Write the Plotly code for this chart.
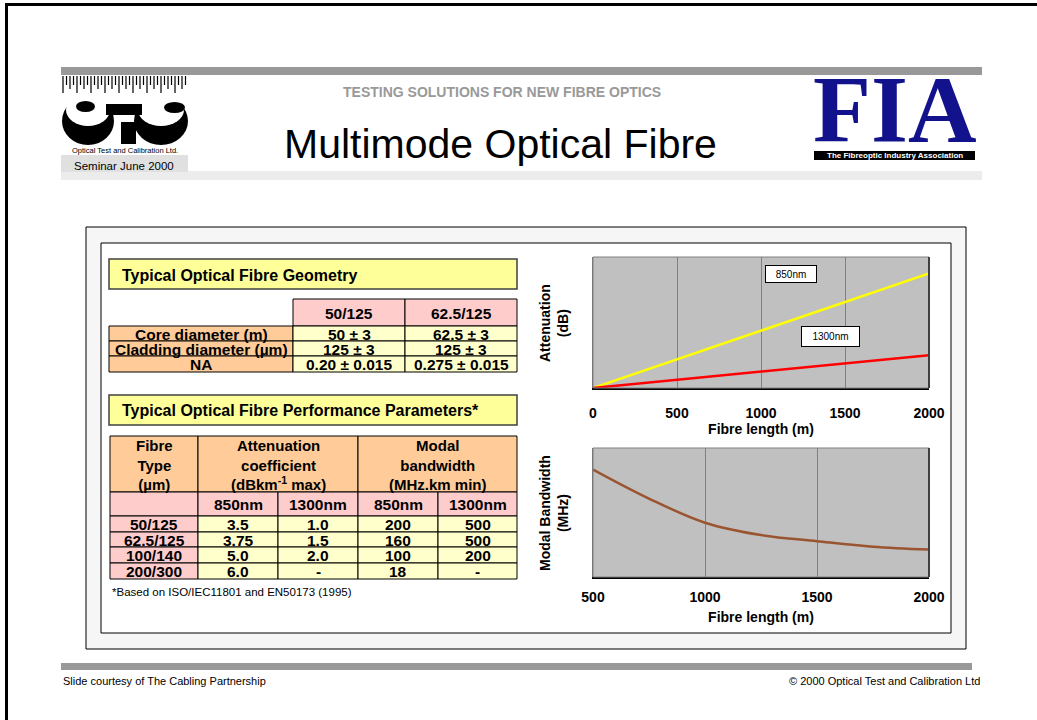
import plotly.graph_objects as go

W, H = 1037, 720
ARIAL = "Arial, Liberation Sans, sans-serif"
SERIF = "Times New Roman, Liberation Serif, serif"

# ---------------- data ----------------
geo_cols = ["50/125", "62.5/125"]
geo_rows = ["Core diameter (m)", "Cladding diameter (µm)", "NA"]
geo_50 = ["50 ± 3", "125 ± 3", "0.20 ± 0.015"]
geo_625 = ["62.5 ± 3", "125 ± 3", "0.275 ± 0.015"]

perf_headers = ["Fibre<br>Type<br>(µm)",
                "Attenuation<br>coefficient<br>(dBkm<sup>-1</sup> max)",
                "Modal<br>bandwidth<br>(MHz.km min)"]
wavelengths = ["850nm", "1300nm", "850nm", "1300nm"]
fibre_types = ["50/125", "62.5/125", "100/140", "200/300"]
att_850 = ["3.5", "3.75", "5.0", "6.0"]
att_1300 = ["1.0", "1.5", "2.0", "-"]
bw_850 = ["200", "160", "100", "18"]
bw_1300 = ["500", "500", "200", "-"]

length_m = [0, 500, 1000, 1500, 2000]
loss_850 = [0, 1.75, 3.5, 5.25, 7.0]
loss_1300 = [0, 0.5, 1.0, 1.5, 2.0]
bw_length_m = [500, 750, 1000, 1250, 1500, 1750, 2000]
bw_mhz = [1000, 730, 505, 390, 333, 282, 255]
att_ticks = [0, 500, 1000, 1500, 2000]
bw_ticks = [500, 1000, 1500, 2000]


# ---------------- helpers ----------------
def px(x):
    return x / W


def py(y):
    return 1 - y / H


shapes = []
annotations = []


def rect(x0, y0, x1, y1, fill="rgba(0,0,0,0)", line="black", lw=1, layer="below"):
    shapes.append(dict(type="rect", xref="paper", yref="paper",
                       x0=px(x0), x1=px(x1), y0=py(y1), y1=py(y0),
                       fillcolor=fill, line=dict(color=line, width=lw), layer=layer))


def ellipse(x0, y0, x1, y1, fill):
    shapes.append(dict(type="circle", xref="paper", yref="paper",
                       x0=px(x0), x1=px(x1), y0=py(y1), y1=py(y0),
                       fillcolor=fill, line=dict(width=0), layer="below"))


def hline(x0, x1, y, color="black", lw=1, layer="below"):
    shapes.append(dict(type="line", xref="paper", yref="paper",
                       x0=px(x0), x1=px(x1), y0=py(y), y1=py(y),
                       line=dict(color=color, width=lw), layer=layer))


def vline(x, y0, y1, color="black", lw=1, layer="below"):
    shapes.append(dict(type="line", xref="paper", yref="paper",
                       x0=px(x), x1=px(x), y0=py(y0), y1=py(y1),
                       line=dict(color=color, width=lw), layer=layer))


def txt(x, y, s, size, bold=False, color="black", xanchor="center",
        family=ARIAL, angle=0, **kw):
    if bold:
        s = "<b>" + s.replace("<br>", "</b><br><b>") + "</b>"
    annotations.append(dict(x=px(x), y=py(y), xref="paper", yref="paper",
                            text=s, showarrow=False, xanchor=xanchor,
                            yanchor="middle", textangle=angle,
                            font=dict(family=family, size=size, color=color), **kw))


# ---------------- slide frame ----------------
vline(6.5, 3, 720, lw=3)
hline(5, 1037, 4.5, lw=3)

# header bars
rect(61, 67, 982, 75, fill="#999999", line="#999999", lw=0)
rect(61, 171, 982, 180, fill="#ececec", line="#ececec", lw=0)
rect(61, 155, 188, 172, fill="#e0e0e0", line="#e0e0e0", lw=0)
txt(124, 166, "Seminar June 2000", 11.5)

# OTC logo (ruler ticks + stylised letters)
tick_path = ""
for i in range(36):
    xx = 63 + i * 3.5
    ln = 17 if i % 4 == 0 else (13 if i % 2 == 0 else 9)
    tick_path += "M%.5f,%.5f L%.5f,%.5f " % (px(xx), py(76), px(xx), py(76 + ln))
shapes.append(dict(type="path", xref="paper", yref="paper", path=tick_path,
                   line=dict(color="black", width=1.2), layer="below"))
ellipse(62, 97, 114, 145, "black")
ellipse(66, 94, 110, 126, "white")
ellipse(76, 101, 95, 112, "black")
ellipse(134, 97, 188, 145, "black")
ellipse(138, 94, 184, 126, "white")
ellipse(164, 102, 185, 113, "black")
rect(106, 104, 142, 115, fill="black", line="black", lw=0)
rect(121, 122, 136, 144, fill="black", line="black", lw=0)
txt(125, 150, "Optical Test and Calibration Ltd.", 7.5)

# FIA logo
txt(895, 110, "<b>FIA</b>", 95, color="#12128c", family=SERIF)
rect(814, 151, 975, 160, fill="black", line="black", lw=0)
txt(895, 155.5, "The Fibreoptic Industry Association", 8, bold=True, color="white")

# titles
txt(502, 92, "TESTING SOLUTIONS FOR NEW FIBRE OPTICS", 14, bold=True, color="#999999")
txt(500, 144, "Multimode Optical Fibre", 41)

# content panel
rect(86, 227, 966, 649, fill="#f6f6f6", line="black", lw=1)
rect(101, 243, 951, 633, fill="white", line="black", lw=1)

# ---------------- table 1 : geometry ----------------
ORANGE, PINK, YELLOW, TITLEY = "#ffcc99", "#ffcccc", "#ffffcc", "#ffff99"
CELL = 15.5
rect(109, 259, 517, 289, fill=TITLEY, line="#404040", lw=1.5)
txt(120, 275, "Typical Optical Fibre Geometry", 16, bold=True, xanchor="left")

g_cols = [109, 293, 405, 517]
g_rows = [299, 326, 341, 356, 372]
for j, c in enumerate(geo_cols):
    rect(g_cols[j + 1], g_rows[0], g_cols[j + 2], g_rows[1], fill=PINK)
    txt((g_cols[j + 1] + g_cols[j + 2]) / 2, 313, c, CELL, bold=True)
for i, lab in enumerate(geo_rows):
    y0, y1 = g_rows[i + 1], g_rows[i + 2]
    yc = (y0 + y1) / 2 + 0.5
    rect(g_cols[0], y0, g_cols[1], y1, fill=ORANGE)
    txt((g_cols[0] + g_cols[1]) / 2, yc, lab, CELL, bold=True)
    for j, vals in enumerate([geo_50, geo_625]):
        rect(g_cols[j + 1], y0, g_cols[j + 2], y1, fill=YELLOW)
        txt((g_cols[j + 1] + g_cols[j + 2]) / 2, yc, vals[i], CELL, bold=True)

# ---------------- table 2 : performance ----------------
rect(109, 395, 517, 425, fill=TITLEY, line="#404040", lw=1.5)
txt(120, 410, "Typical Optical Fibre Performance Parameters*", 16, bold=True, xanchor="left")

p_cols = [110, 198, 278, 358, 438, 517]
p_rows = [436, 492, 516, 532, 547, 563, 579]
head_spans = [(0, 1), (1, 3), (3, 5)]
for (a, b), h in zip(head_spans, perf_headers):
    rect(p_cols[a], p_rows[0], p_cols[b], p_rows[1], fill=ORANGE)
    txt((p_cols[a] + p_cols[b]) / 2, 465, h, 15, bold=True)
rect(p_cols[0], p_rows[1], p_cols[1], p_rows[2], fill=PINK)
for j, wl in enumerate(wavelengths):
    rect(p_cols[j + 1], p_rows[1], p_cols[j + 2], p_rows[2], fill=PINK)
    txt((p_cols[j + 1] + p_cols[j + 2]) / 2, 505, wl, CELL, bold=True)
for i, ft in enumerate(fibre_types):
    y0, y1 = p_rows[i + 2], p_rows[i + 3]
    yc = (y0 + y1) / 2 + 0.5
    rect(p_cols[0], y0, p_cols[1], y1, fill=PINK)
    txt((p_cols[0] + p_cols[1]) / 2, yc, ft, CELL, bold=True)
    for j, col in enumerate([att_850, att_1300, bw_850, bw_1300]):
        rect(p_cols[j + 1], y0, p_cols[j + 2], y1, fill=YELLOW)
        txt((p_cols[j + 1] + p_cols[j + 2]) / 2, yc, col[i], CELL, bold=True)

txt(110, 592, "*Based on ISO/IEC11801 and EN50173 (1995)", 11.5, xanchor="left")

# ---------------- charts ----------------
C1 = (593, 929, 257, 388)
C2 = (593, 929, 448, 577)
PLOTBG = "#c0c0c0"

# plot-area backgrounds (drawn after the white panel so they stay visible)
for c in (C1, C2):
    rect(c[0], c[2], c[1], c[3], fill=PLOTBG, line=PLOTBG, lw=0)

fig = go.Figure()
fig.add_trace(go.Scatter(x=length_m, y=loss_850, mode="lines", name="850nm",
                         line=dict(color="#ffff00", width=2.5), xaxis="x", yaxis="y"))
fig.add_trace(go.Scatter(x=length_m, y=loss_1300, mode="lines", name="1300nm",
                         line=dict(color="#ff0000", width=2.5), xaxis="x", yaxis="y"))
fig.add_trace(go.Scatter(x=bw_length_m, y=bw_mhz, mode="lines", name="bandwidth",
                         line=dict(color="#9a5530", width=2.5, shape="spline"),
                         xaxis="x2", yaxis="y2"))

tickfont = dict(family=ARIAL, size=14, color="black", weight="bold")
titlefont = dict(family=ARIAL, size=14, color="black", weight="bold")


def xax(c, rng, ticks, tl, standoff, anchor):
    return dict(domain=[px(c[0]), px(c[1])], range=rng, tickvals=ticks,
                ticktext=[str(t) for t in ticks], tickfont=tickfont,
                ticks="outside", ticklen=tl, tickcolor="rgba(0,0,0,0)",
                showgrid=True, gridcolor="#808080", gridwidth=1, zeroline=False,
                showline=True, linecolor="black", linewidth=1.5, anchor=anchor,
                title=dict(text="Fibre length (m)", font=titlefont, standoff=standoff),
                fixedrange=True, automargin=False)


def yax(c, rng, anchor):
    return dict(domain=[py(c[3]), py(c[2])], range=rng, showticklabels=False,
                showgrid=False, zeroline=False, ticks="", anchor=anchor,
                showline=True, linecolor="#707070", linewidth=1,
                fixedrange=True, automargin=False)


for c in (C1, C2):
    rect(c[0], c[2], c[1], c[3], line="#808080", lw=1, layer="above")
    vline(c[1], c[2], c[3], color="#404040", lw=2, layer="above")

txt(554, 323, "Attenuation<br>(dB)", 14, bold=True, angle=-90)
txt(554, 513, "Modal Bandwidth<br>(MHz)", 14, bold=True, angle=-90)

# series labels
annotations.append(dict(x=px(817), y=py(274), xref="paper", yref="paper", text="850nm",
                        showarrow=False, width=48, height=14, bgcolor="white",
                        bordercolor="black", borderwidth=1, borderpad=1,
                        font=dict(family=ARIAL, size=10, color="black")))
annotations.append(dict(x=px(859.5), y=py(336.5), xref="paper", yref="paper", text="1300nm",
                        showarrow=False, width=55, height=17, bgcolor="white",
                        bordercolor="black", borderwidth=1, borderpad=1,
                        font=dict(family=ARIAL, size=10, color="black")))

# footer
rect(61, 663, 972, 670, fill="#999999", line="#999999", lw=0)
txt(61, 681, "Slide courtesy of The Cabling Partnership", 11, xanchor="left")
txt(982, 681, "© 2000 Optical Test and Calibration Ltd", 11, xanchor="right")

fig.update_layout(
    width=W, height=H, margin=dict(l=0, r=0, t=0, b=0),
    paper_bgcolor="white", plot_bgcolor=PLOTBG, showlegend=False,
    xaxis=xax(C1, [0, 2000], att_ticks, 11, 4, "y"),
    yaxis=yax(C1, [0, 8], "x"),
    xaxis2=xax(C2, [500, 2000], bw_ticks, 6, 9, "y2"),
    yaxis2=yax(C2, [0, 1200], "x2"),
    shapes=shapes, annotations=annotations,
)

fig.write_html("out.html", config={"displayModeBar": False},
               post_script="document.body.style.margin='0';document.body.style.overflow='hidden';")
